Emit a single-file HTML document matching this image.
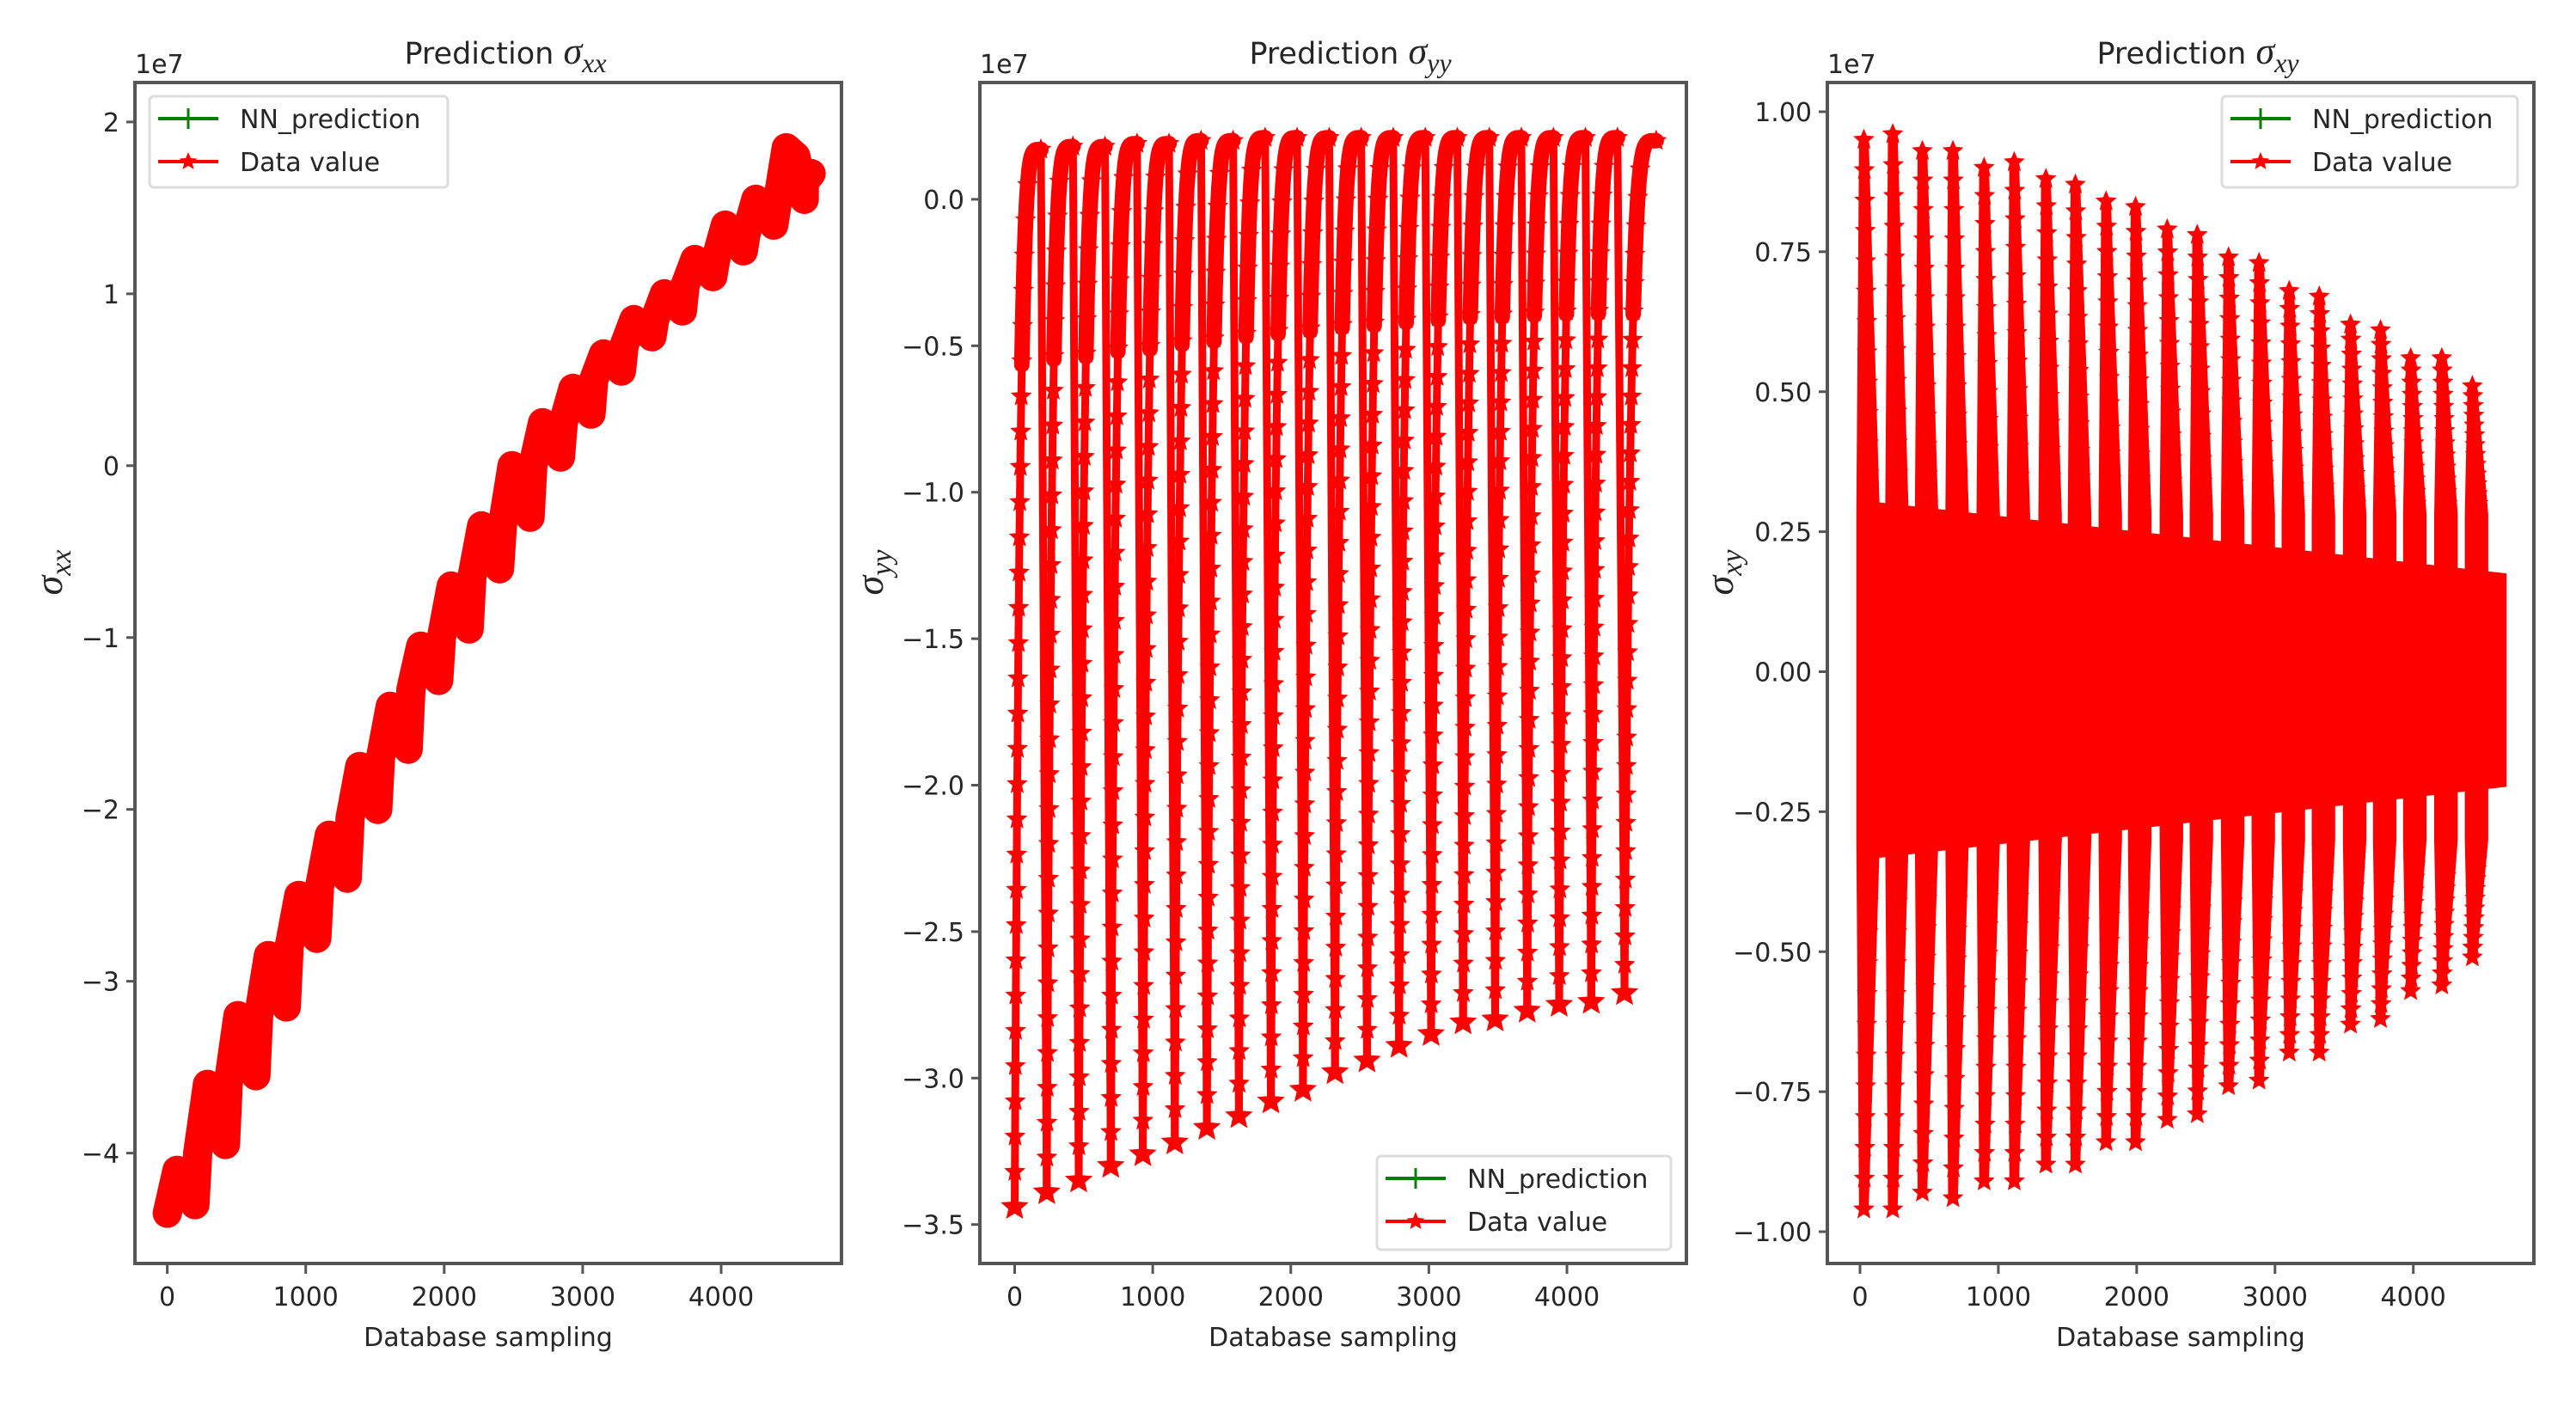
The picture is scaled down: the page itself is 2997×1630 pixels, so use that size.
<!DOCTYPE html>
<html><head><meta charset="utf-8"><style>
html,body{margin:0;padding:0;background:#fff;}
svg{display:block;}
text{font-family:"DejaVu Sans","Liberation Sans",sans-serif;fill:#262626;}
.tk{font-size:30px;}
.ttl{font-size:35px;}
</style></head><body>
<svg id="fig" width="2997" height="1630" viewBox="0 0 2997 1630" xmlns="http://www.w3.org/2000/svg">
<rect width="2997" height="1630" fill="#fff"/>
</svg>
<script>
// ---- data (stress values in units of 1e7) ----
const xxStarts=[0,220,440,660,880,1100,1320,1540,1760,1980,2200,2420,2640,2860,3080,3300,3520,3740,3960,4180,4400,4600];
const xxLow=[-4.35,-4.0,-3.6,-3.2,-2.8,-2.45,-2.05,-1.7,-1.3,-1.0,-0.65,-0.35,0.0,0.25,0.5,0.7,0.85,1.05,1.2,1.35,1.5,1.65];
const xxHigh=[-4.1,-3.6,-3.2,-2.85,-2.5,-2.15,-1.75,-1.4,-1.05,-0.7,-0.35,0.0,0.25,0.45,0.65,0.85,1.0,1.2,1.4,1.55,1.85,1.7];

const yyStarts=[0,232,464,696,928,1160,1392,1624,1856,2088,2320,2552,2784,3016,3248,3480,3712,3944,4176,4417];
const yyBottoms=[-3.44,-3.39,-3.35,-3.30,-3.26,-3.22,-3.17,-3.13,-3.08,-3.04,-2.98,-2.94,-2.89,-2.85,-2.81,-2.80,-2.77,-2.75,-2.74,-2.71];
const yyTops=[0.17,0.18,0.18,0.19,0.19,0.2,0.2,0.21,0.21,0.21,0.21,0.21,0.21,0.21,0.21,0.21,0.21,0.21,0.21,0.2];

const xyPeaks=[28,237,451,672,897,1115,1344,1557,1779,1992,2221,2438,2664,2885,3103,3320,3546,3763,3981,4206,4427];
const xyUpper=[0.95,0.96,0.93,0.93,0.90,0.91,0.88,0.87,0.84,0.83,0.79,0.78,0.74,0.73,0.68,0.67,0.62,0.61,0.56,0.56,0.51];
const xyLower=[-0.96,-0.96,-0.93,-0.94,-0.91,-0.91,-0.88,-0.88,-0.84,-0.84,-0.80,-0.79,-0.74,-0.73,-0.68,-0.68,-0.63,-0.62,-0.57,-0.56,-0.51];
const xyCoreTop=[0.30,0.17];
const xyCoreBot=[-0.33,-0.20];
const xyEnd=4650;

const xTicks=[0,1000,2000,3000,4000];
const xTickLabels=['0','1000','2000','3000','4000'];
const xxYTicks=[-4,-3,-2,-1,0,1,2];
const xxYLabels=['\u22124','\u22123','\u22122','\u22121','0','1','2'];
const yyYTicks=[-3.5,-3,-2.5,-2,-1.5,-1,-0.5,0];
const yyYLabels=['\u22123.5','\u22123.0','\u22122.5','\u22122.0','\u22121.5','\u22121.0','\u22120.5','0.0'];
const xyYTicks=[-1,-0.75,-0.5,-0.25,0,0.25,0.5,0.75,1];
const xyYLabels=['\u22121.00','\u22120.75','\u22120.50','\u22120.25','0.00','0.25','0.50','0.75','1.00'];

const NS='http://www.w3.org/2000/svg';
const fig=document.getElementById('fig');
function mk(tag,attrs,parent){const e=document.createElementNS(NS,tag);for(const k in attrs)e.setAttribute(k,attrs[k]);(parent||fig).appendChild(e);return e;}

const panels=[
 {L:157,R:979,T:96,B:1470,x0:194.6,xs:0.1611,y0:541.8,ys:199.95,ticks:xxYTicks,labels:xxYLabels,sub:'xx',name:'sxx'},
 {L:1140,R:1962,T:96,B:1470,x0:1180.5,xs:0.16063,y0:231.9,ys:340.8,ticks:yyYTicks,labels:yyYLabels,sub:'yy',name:'syy'},
 {L:2126,R:2948,T:96,B:1470,x0:2164,xs:0.16093,y0:781.5,ys:651.5,ticks:xyYTicks,labels:xyYLabels,sub:'xy',name:'sxy'}
];
panels.forEach(p=>{p.X=v=>p.x0+v*p.xs;p.Y=v=>p.y0-v*p.ys;});

function star(g,cx,cy,r){
  let pts=[];for(let i=0;i<10;i++){const a=-Math.PI/2+i*Math.PI/5;const rr=i%2?r*0.45:r;pts.push((cx+rr*Math.cos(a)).toFixed(1)+','+(cy+rr*Math.sin(a)).toFixed(1));}
  const s=mk('polygon',{points:pts.join(' '),fill:'#ff0000'},g);
  
  
}

// ---- panel 1 ----
(function(){const p=panels[0];const g=mk('g',{});
 
 let d='';
 for(let i=0;i<xxStarts.length;i++){
   const x=xxStarts[i];
   const last=i===xxStarts.length-1;
   const pts=last?[[x,xxLow[i]],[x+50,xxHigh[i]]]:[[x,xxLow[i]],[x+70,xxHigh[i]],[x+140,xxHigh[i]-0.05],[x+200,xxLow[i]+0.05]];
   pts.forEach((q,j)=>{d+=(i===0&&j===0?'M':'L')+p.X(q[0]).toFixed(1)+','+p.Y(q[1]).toFixed(1)+' ';});
 }
 const ln=mk('path',{d:d,fill:'none',stroke:'#ff0000','stroke-width':34,'stroke-linejoin':'round','stroke-linecap':'round'},g);
 
})();

// ---- panel 2 ----
(function(){const p=panels[1];const g=mk('g',{});
 
 for(let i=0;i<yyStarts.length;i++){
   const x=yyStarts[i],b=yyBottoms[i],t=yyTops[i];
   const span=(i===yyStarts.length-1)?230:190;
   let d='';const N=22;
   for(let k=0;k<=N;k++){const u=k/N;const xv=x+span*u;const yv=b+(t-b)*(1-Math.pow(1-u,5));
     d+=(k?'L':'M')+p.X(xv).toFixed(1)+','+p.Y(yv).toFixed(1)+' ';}
   for(let k=0;k<=30;k++){const f=k/30;const u=1-Math.pow(1-f,1/5);const xv=x+span*u;const yv=b+(t-b)*f;
     star(g,p.X(xv),p.Y(yv),13);}
   if(i<yyStarts.length-1){d+='L'+p.X(yyStarts[i+1]).toFixed(1)+','+p.Y(yyBottoms[i+1]).toFixed(1);}
   const ln=mk('path',{d:d,fill:'none',stroke:'#ff0000','stroke-width':9,'stroke-linejoin':'round'},g);
   
   star(g,p.X(x),p.Y(b),17);
 }
 for(let i=0;i<yyStarts.length;i++){
   const x=yyStarts[i],b=yyBottoms[i],t=yyTops[i];const span=(i===yyStarts.length-1)?230:190;
   let d='';const N=22;
   for(let k=0;k<=N;k++){const u=k/N;const xv=x+span*u;const yv=b+(t-b)*(1-Math.pow(1-u,5));if(yv<-0.6)continue;
     d+=(d?'L':'M')+p.X(xv).toFixed(1)+','+p.Y(yv).toFixed(1)+' ';}
   const ln=mk('path',{d:d,fill:'none',stroke:'#ff0000','stroke-width':18,'stroke-linecap':'round','stroke-linejoin':'round'},g);
   
 }
})();

// ---- panel 3 ----
(function(){const p=panels[2];const g=mk('g',{});
 
 const core=mk('polygon',{points:[[0,xyCoreTop[0]],[xyEnd,xyCoreTop[1]],[xyEnd,xyCoreBot[1]],[0,xyCoreBot[0]]].map(q=>p.X(q[0]).toFixed(1)+','+p.Y(q[1]).toFixed(1)).join(' '),fill:'#ff0000',stroke:'#ff0000','stroke-width':8},g);
 
 for(let i=0;i<xyPeaks.length;i++){
   const x=xyPeaks[i];
   const pts=[[x-30,0.28],[x-10,xyUpper[i]],[x+10,xyUpper[i]],[x+90,0.28],[x+90,-0.3],[x+10,xyLower[i]],[x-10,xyLower[i]],[x-30,-0.3]];
   const sp=mk('polygon',{points:pts.map(q=>p.X(q[0]).toFixed(1)+','+p.Y(q[1]).toFixed(1)).join(' '),fill:'#ff0000',stroke:'#ff0000','stroke-width':8,'stroke-linejoin':'round'},g);
   
   for(let k=0;k<=12;k++){const u=k/12;
     star(g,p.X(x+u*40),p.Y(0.3+(xyUpper[i]-0.3)*(1-u)),13);
     star(g,p.X(x+u*40),p.Y(-0.3+(xyLower[i]+0.3)*(1-u)),13);}
 }
})();

// ---- axes, ticks, labels ----
panels.forEach((p,pi)=>{
 const g=mk('g',{});
 const fr=mk('rect',{x:p.L,y:p.T,width:p.R-p.L,height:p.B-p.T,fill:'none',stroke:'#555','stroke-width':4},g);
 
 xTicks.forEach((v,i)=>{const x=p.X(v);
   mk('line',{x1:x,y1:p.B,x2:x,y2:p.B+12,stroke:'#555','stroke-width':3},g);
   const t=mk('text',{x:x,y:1519,'text-anchor':'middle',class:'tk'},g);t.textContent=xTickLabels[i];
   });
 p.ticks.forEach((v,i)=>{const y=p.Y(v);
   mk('line',{x1:p.L,y1:y,x2:p.L-10,y2:y,stroke:'#555','stroke-width':3},g);
   const t=mk('text',{x:p.L-18,y:y+11,'text-anchor':'end',class:'tk'},g);t.textContent=p.labels[i];
   });
 const ex=mk('text',{x:p.L,y:85,class:'tk'},g);ex.textContent='1e7';
 
 const xl=mk('text',{x:(p.L+p.R)/2,y:1566,'text-anchor':'middle',class:'tk'},g);xl.textContent='Database sampling';
 
 const tt=mk('text',{x:(p.L+p.R)/2+20,y:74,'text-anchor':'middle',class:'ttl'},g);
 
 tt.innerHTML='Prediction <tspan style="font-family:Liberation Serif,serif;font-style:italic;font-size:44px">\u03c3</tspan><tspan dy="10" style="font-family:Liberation Serif,serif;font-style:italic;font-size:32px">'+p.sub+'</tspan>';
 const yx=[72,1027,2016][pi];const yc=666;
 const yl=mk('text',{x:yx,y:yc,transform:'rotate(-90 '+yx+' '+yc+')','text-anchor':'middle',style:'font-family:Liberation Serif,serif;font-style:italic;font-size:46px'},g);
 
 yl.innerHTML='\u03c3<tspan dy="10" font-size="34">'+p.sub+'</tspan>';
});

// ---- legends ----
[[174,112,521,218],[1602,1345,1944,1454],[2585,112,2929,218]].forEach(b=>{
 const g=mk('g',{});
 mk('rect',{x:b[0],y:b[1],width:b[2]-b[0],height:b[3]-b[1],rx:5,fill:'#fff','fill-opacity':0.8,stroke:'#ddd','stroke-width':3},g);
 const r1=b[1]+26,r2=b[1]+76;
 const e1=mk('g',{},g);
 mk('line',{x1:b[0]+10,y1:r1,x2:b[0]+80,y2:r1,stroke:'#008000','stroke-width':4},e1);
 mk('line',{x1:b[0]+45,y1:r1-12,x2:b[0]+45,y2:r1+12,stroke:'#008000','stroke-width':3},e1);
 const t1=mk('text',{x:b[0]+105,y:r1+11,class:'tk'},e1);t1.textContent='NN_prediction';
 const e2=mk('g',{},g);
 mk('line',{x1:b[0]+10,y1:r2,x2:b[0]+80,y2:r2,stroke:'#ff0000','stroke-width':4},e2);
 star(e2,b[0]+45,r2,11);
 const t2=mk('text',{x:b[0]+105,y:r2+11,class:'tk'},e2);t2.textContent='Data value';
});
</script>
</body></html>
